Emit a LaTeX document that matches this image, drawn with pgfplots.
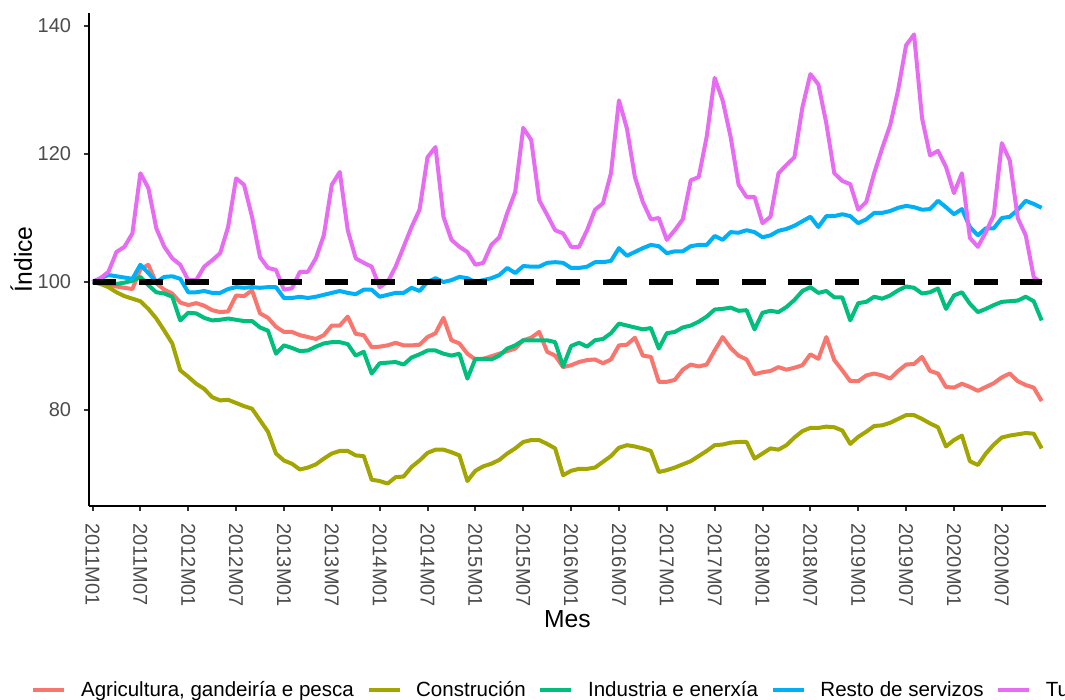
\documentclass[border=0pt]{standalone}
\usepackage{fontspec}
\setmainfont{Liberation Sans}
\usepackage{pgfplots}
\pgfplotsset{compat=1.18}
\usepackage{pgfplotstable}

\definecolor{cagr}{HTML}{F8766D}
\definecolor{ccon}{HTML}{A3A500}
\definecolor{cind}{HTML}{00BF7D}
\definecolor{cres}{HTML}{00B0F6}
\definecolor{ctur}{HTML}{E76BF3}

% mes (0 = 2011M01), un indice por sector
\pgfplotstableread{
i agr con ind res tur
0 100.0 100.0 100.0 100.0 100.0
1 99.8 99.7 99.8 100.6 100.6
2 99.5 99.2 99.7 101.1 101.6
3 99.3 98.4 99.7 100.9 104.7
4 99.1 97.8 99.9 100.7 105.5
5 98.9 97.4 100.2 100.5 107.6
6 102.0 97.0 100.8 102.7 117.0
7 102.7 95.8 99.5 101.4 114.7
8 99.8 94.3 98.4 100.0 108.4
9 98.8 92.4 98.2 100.8 105.5
10 98.2 90.4 97.7 100.9 103.7
11 96.8 86.2 94.0 100.5 102.7
12 96.4 85.2 95.2 98.4 100.3
13 96.7 84.1 95.1 98.4 100.3
14 96.3 83.3 94.4 98.6 102.4
15 95.6 82.0 94.0 98.3 103.4
16 95.3 81.5 94.1 98.3 104.5
17 95.4 81.6 94.3 98.9 108.6
18 97.9 81.1 94.1 99.2 116.2
19 97.8 80.6 93.9 99.1 115.2
20 98.7 80.2 93.9 99.2 110.2
21 95.1 78.4 92.9 99.1 103.9
22 94.4 76.6 92.4 99.2 102.2
23 93.0 73.2 88.8 99.2 101.9
24 92.2 72.1 90.1 97.5 98.8
25 92.2 71.6 89.7 97.5 99.0
26 91.7 70.7 89.2 97.7 101.6
27 91.4 71.0 89.3 97.5 101.6
28 91.1 71.5 89.9 97.7 103.7
29 91.7 72.4 90.4 98.0 107.3
30 93.2 73.2 90.6 98.3 115.2
31 93.2 73.6 90.6 98.6 117.2
32 94.6 73.6 90.3 98.3 108.1
33 91.9 72.9 88.5 98.1 103.7
34 91.7 72.8 89.1 98.8 103.0
35 89.8 69.1 85.7 98.8 102.4
36 89.9 68.9 87.3 97.7 99.2
37 90.1 68.5 87.4 98.0 100.0
38 90.5 69.5 87.5 98.3 102.4
39 90.1 69.6 87.1 98.3 105.5
40 90.1 71.1 88.2 99.1 108.6
41 90.2 72.1 88.7 98.6 111.3
42 91.4 73.3 89.3 100.0 119.5
43 92.0 73.8 89.3 100.6 121.1
44 94.4 73.8 88.8 100.0 110.2
45 90.9 73.4 88.5 100.3 106.6
46 90.4 72.9 88.8 100.8 105.5
47 88.8 68.9 84.9 100.6 104.7
48 87.9 70.5 88.0 100.0 102.7
49 88.0 71.2 88.0 100.3 103.0
50 88.4 71.6 87.9 100.6 105.8
51 88.8 72.2 88.5 101.1 107.0
52 89.2 73.2 89.6 102.2 110.8
53 89.6 74.0 90.1 101.4 114.1
54 90.9 75.0 90.9 102.5 124.1
55 91.3 75.3 90.9 102.4 122.2
56 92.2 75.3 90.9 102.4 112.8
57 89.1 74.7 90.9 103.0 110.5
58 88.5 74.0 90.6 103.1 108.1
59 86.7 69.8 86.8 103.0 107.6
60 87.0 70.5 90.0 102.2 105.5
61 87.5 70.8 90.5 102.2 105.5
62 87.8 70.8 89.9 102.4 108.1
63 87.9 71.0 90.9 103.1 111.3
64 87.3 71.9 91.1 103.1 112.3
65 87.9 72.8 92.0 103.3 117.0
66 90.1 74.1 93.5 105.3 128.4
67 90.2 74.5 93.2 104.1 124.0
68 91.3 74.3 92.9 104.7 116.4
69 88.5 74.0 92.6 105.3 112.5
70 88.3 73.6 92.8 105.8 109.8
71 84.4 70.3 89.6 105.6 110.0
72 84.4 70.6 92.0 104.5 106.6
73 84.7 71.0 92.2 104.8 108.1
74 86.3 71.5 92.9 104.8 109.8
75 87.1 72.0 93.2 105.6 115.9
76 86.8 72.8 93.8 105.8 116.4
77 87.1 73.6 94.6 105.8 122.7
78 89.3 74.5 95.7 107.2 131.9
79 91.4 74.6 95.8 106.6 128.4
80 89.7 74.9 96.0 107.8 122.7
81 88.5 75.0 95.5 107.7 115.2
82 87.9 75.0 95.6 108.1 113.3
83 85.6 72.4 92.6 107.8 113.3
84 85.9 73.2 95.2 107.0 109.2
85 86.1 74.0 95.5 107.3 110.2
86 86.7 73.8 95.3 108.0 117.0
87 86.3 74.5 96.1 108.3 118.3
88 86.6 75.7 97.2 108.8 119.5
89 87.0 76.7 98.6 109.5 127.3
90 88.7 77.2 99.2 110.2 132.5
91 88.0 77.2 98.3 108.6 130.9
92 91.4 77.4 98.6 110.3 124.8
93 87.8 77.3 97.6 110.3 117.0
94 86.2 76.8 97.6 110.6 115.8
95 84.5 74.7 94.0 110.3 115.3
96 84.5 75.8 96.7 109.2 111.3
97 85.4 76.6 96.9 109.8 112.5
98 85.7 77.5 97.7 110.8 117.0
99 85.4 77.6 97.4 110.8 120.9
100 84.9 78.0 97.9 111.1 124.5
101 86.1 78.6 98.7 111.6 130.0
102 87.1 79.2 99.3 111.9 137.0
103 87.2 79.2 99.1 111.7 138.7
104 88.3 78.6 98.2 111.3 125.6
105 86.1 77.9 98.4 111.4 119.8
106 85.7 77.3 99.0 112.7 120.5
107 83.6 74.3 95.8 111.7 118.0
108 83.5 75.3 97.9 110.6 113.9
109 84.1 76.0 98.4 111.4 117.0
110 83.6 72.0 96.6 108.6 106.9
111 83.0 71.4 95.3 107.3 105.5
112 83.6 73.2 95.8 108.4 107.8
113 84.2 74.6 96.4 108.4 110.5
114 85.1 75.7 96.9 110.0 121.7
115 85.7 76.0 97.0 110.2 119.0
116 84.5 76.2 97.1 111.3 110.0
117 83.9 76.4 97.7 112.7 107.3
118 83.5 76.3 97.0 112.2 100.8
119 81.4 74.0 94.0 111.6 99.8
}\datatab

\begin{document}
\begin{tikzpicture}
\begin{axis}[
    at={(0pt,0pt)}, anchor=south west,
    scale only axis, width=718.5pt, height=370pt,
    xmin=-0.5, xmax=119.6, ymin=65, ymax=142.1,
    axis x line*=bottom, axis y line*=left,
    axis line style={line width=1.5pt, -},
    tick align=outside, major tick length=3.5pt,
    tick style={line width=1.5pt, color=black!80},
    xtick={0,6,...,114},
    xticklabels={2011M01,2011M07,2012M01,2012M07,2013M01,2013M07,2014M01,2014M07,2015M01,2015M07,2016M01,2016M07,2017M01,2017M07,2018M01,2018M07,2019M01,2019M07,2020M01,2020M07},
    ytick={80,100,120,140}, yticklabels={80,100,120,140},
    ticklabel style={font=\fontsize{15}{18}\selectfont, text=black!70, inner sep=0pt},
    xticklabel style={rotate=-90, anchor=west},
    yticklabel style={anchor=east},
    xticklabel shift=9.5pt, yticklabel shift=9.4pt,
    xlabel={Mes}, ylabel={Índice},
    every axis x label/.style={at={([yshift=-91.5pt]axis description cs:0.5,0)}, anchor=base,
        font=\fontsize{18.5}{22}\selectfont},
    every axis y label/.style={at={([xshift=-42.4pt]axis description cs:0,0.5)}, rotate=90, anchor=base,
        font=\fontsize{18.5}{22}\selectfont},
    legend style={at={([xshift=-43.1pt,yshift=-138pt]axis description cs:0,0)}, anchor=west,
        draw=none, fill=none, inner sep=0pt, outer sep=0pt,
        font=\fontsize{15.4}{18}\selectfont, legend cell align=left,
        /tikz/every odd column/.append style={column sep=8.75pt},
        /tikz/every even column/.append style={column sep=7.25pt}},
    legend columns=-1,
    legend image code/.code={\draw[#1, line width=3.5pt] (0pt,0pt) -- (23.25pt,0pt);},
    every axis plot/.append style={line width=3pt, line join=round},
]
\addplot[cagr] table[x=i, y=agr] {\datatab};
\addlegendentry{Agricultura, gandeiría e pesca}
\addplot[ccon] table[x=i, y=con] {\datatab};
\addlegendentry{Construción}
\addplot[cind] table[x=i, y=ind] {\datatab};
\addlegendentry{Industria e enerxía}
\addplot[cres] table[x=i, y=res] {\datatab};
\addlegendentry{Resto de servizos}
\addplot[ctur] table[x=i, y=tur] {\datatab};
\addlegendentry{Turismo}
\addplot[black, line width=4pt, dash pattern=on 17.8pt off 17pt, forget plot] coordinates {(0,100) (119,100)};
\end{axis}
\pgfresetboundingbox
\path[use as bounding box] (-66.4pt,-145.5pt) rectangle (732.4pt,379.5pt);
\end{tikzpicture}
\end{document}
